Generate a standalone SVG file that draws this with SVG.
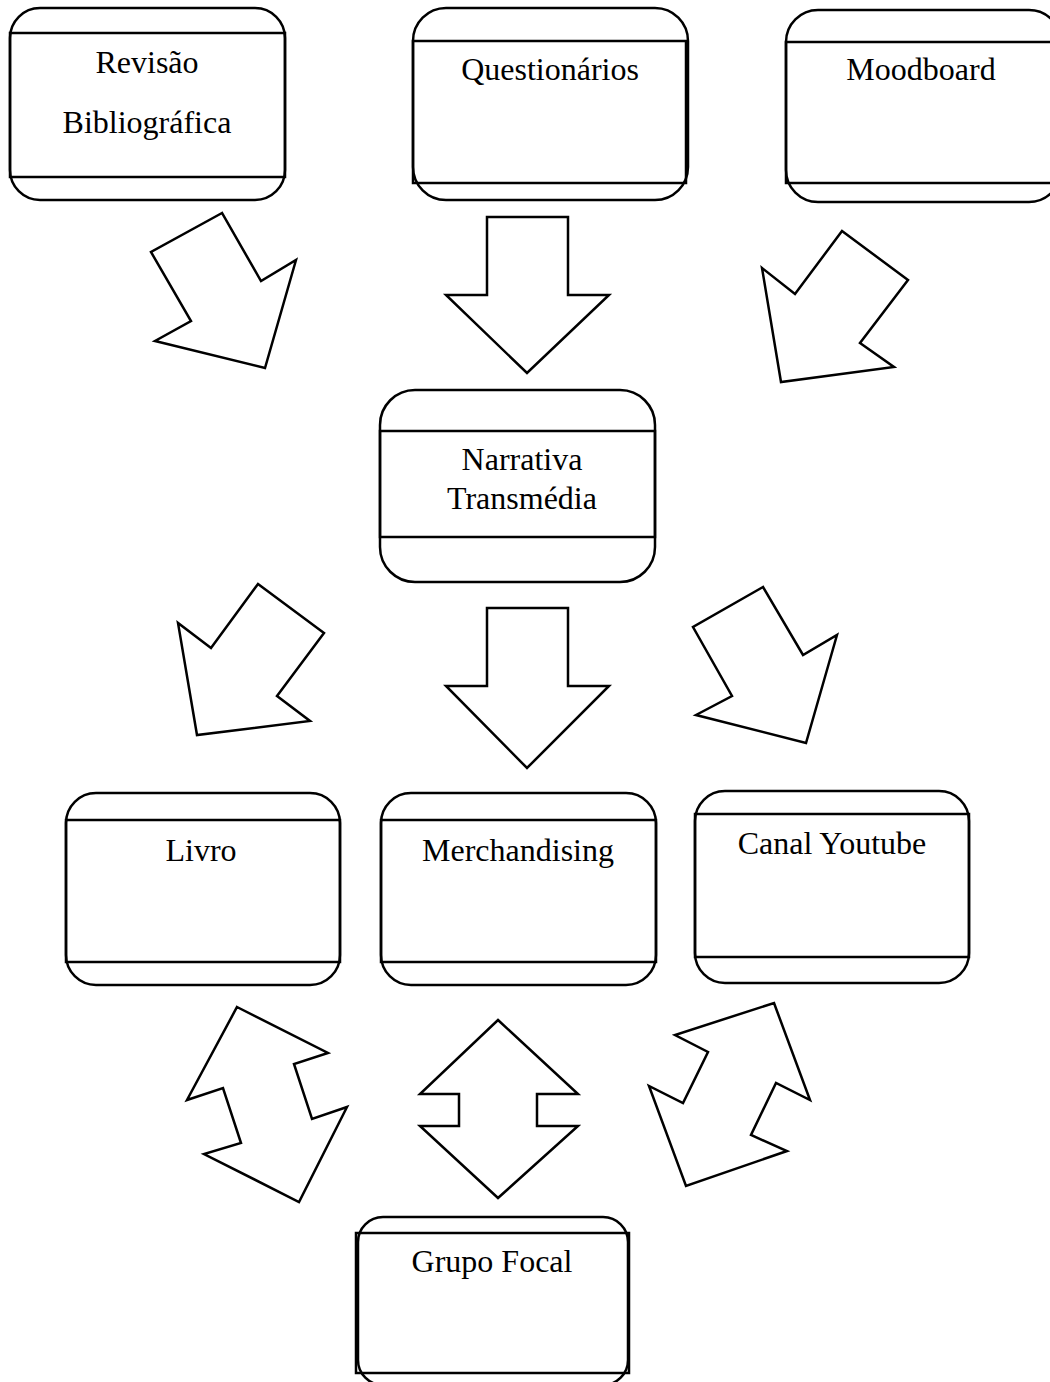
<svg xmlns="http://www.w3.org/2000/svg" width="1050" height="1382" viewBox="0 0 1050 1382">
<style>
.rr{fill:#fff;stroke:#000;stroke-width:2.5}
.in{fill:none;stroke:#000;stroke-width:2.5}
.t{font-family:"Liberation Serif","Times New Roman",serif;font-size:32px;fill:#000;text-anchor:middle}
.ar{fill:#fff;stroke:#000;stroke-width:2.5;stroke-linejoin:miter}
</style>
<rect width="1050" height="1382" fill="#fff"/>
<g id="connectors">
<polygon class="ar" points="222,213 151,252 191,321 155,341 265,368 296,260 261,281"/>
<polygon class="ar" points="487,217 568,217 568,295 609,295 527,373 446,295 487,295"/>
<polygon class="ar" points="842,231 908,280 860,343 894,367 781,382 762,268 795,294"/>
<polygon class="ar" points="258,584 324,633 277,696 310,721 197,735 178,623 211,648"/>
<polygon class="ar" points="487,608 568,608 568,686 609,686 527,768 446,686 487,686"/>
<polygon class="ar" points="763,587 693,627 732,696 696,715 806,743 837,635 803,655"/>
<polygon class="ar" points="237,1007 328,1053 294,1064 312,1119 347,1107 299,1202 204,1154 241,1143 223,1088 187,1100"/>
<polygon class="ar" points="498,1020 578,1094 537,1094 537,1126 578,1126 498,1198 420,1126 459,1126 459,1094 420,1094"/>
<polygon class="ar" points="774,1003 810,1100 776,1083 751,1135 787,1151 686,1186 649,1086 683,1103 708,1052 675,1035"/>
</g>
<g id="revisao">
<rect class="rr" x="10" y="8" width="275" height="192" rx="30"/>
<rect class="in" x="10" y="33" width="275" height="144"/>
<text class="t" x="147" y="73">Revisão</text>
<text class="t" x="147" y="133">Bibliográfica</text>
</g>
<g id="questionarios">
<rect class="rr" x="413" y="8" width="275" height="192" rx="33"/>
<rect class="in" x="413" y="41" width="273" height="142"/>
<text class="t" x="550" y="80">Questionários</text>
</g>
<g id="moodboard">
<rect class="rr" x="786" y="10" width="275" height="192" rx="32"/>
<rect class="in" x="786" y="42" width="275" height="141"/>
<text class="t" x="921" y="80">Moodboard</text>
</g>
<g id="narrativa">
<rect class="rr" x="380" y="390" width="275" height="192" rx="35"/>
<rect class="in" x="380" y="431" width="275" height="106"/>
<text class="t" x="522" y="470">Narrativa</text>
<text class="t" x="522" y="509">Transmédia</text>
</g>
<g id="livro">
<rect class="rr" x="66" y="793" width="274" height="192" rx="30"/>
<rect class="in" x="66" y="820" width="274" height="142"/>
<text class="t" x="201" y="861">Livro</text>
</g>
<g id="merchandising">
<rect class="rr" x="381" y="793" width="275" height="192" rx="30"/>
<rect class="in" x="381" y="820" width="275" height="142"/>
<text class="t" x="518" y="861">Merchandising</text>
</g>
<g id="canal">
<rect class="rr" x="695" y="791" width="274" height="192" rx="30"/>
<rect class="in" x="695" y="814" width="274" height="143"/>
<text class="t" x="832" y="854">Canal Youtube</text>
</g>
<g id="grupo">
<rect class="rr" x="358" y="1217" width="270" height="168" rx="25"/>
<rect class="in" x="356" y="1233" width="273" height="140"/>
<text class="t" x="492" y="1272">Grupo Focal</text>
</g>
</svg>
